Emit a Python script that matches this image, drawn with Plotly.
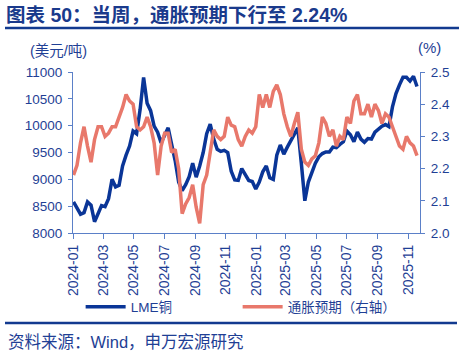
import pandas as pd
import plotly.graph_objects as go

dates = pd.date_range("2024-01-02", periods=99, freq="7D")

copper = [8580, 8470, 8350, 8380, 8580, 8520, 8210, 8360, 8510, 8490,
          8640, 9000, 8860, 8890, 9250, 9450, 9620, 9900, 9850, 10300,
          10900, 10420, 10280, 9990, 9880, 9680, 9820, 9960, 9650, 9350,
          8950, 8790, 8900, 9050, 9300, 9040, 9250, 9500, 9850, 10030,
          9750, 9560, 9520, 9540, 9500, 9150, 8990, 8980, 9200, 9100,
          8980, 8960, 8820, 8950, 9140, 9250, 9030, 9000, 9450, 9640,
          9470, 9600, 9720, 9830, 9960, 9300, 8600, 8950, 9150, 9300,
          9420, 9480, 9510, 9510, 9600, 9590, 9650, 9700, 9900, 9830,
          9700, 9880, 9750, 9690, 9760, 9750, 9880, 9940, 9990, 10020,
          9980, 10350, 10600, 10760, 10900, 10900, 10830, 10920, 10730]

inflation = [2.18, 2.21, 2.28, 2.33, 2.27, 2.22, 2.29, 2.33, 2.33, 2.30,
             2.31, 2.33, 2.33, 2.36, 2.39, 2.43, 2.41, 2.40, 2.33, 2.32,
             2.33, 2.36, 2.33, 2.28, 2.18, 2.27, 2.31, 2.31, 2.25, 2.26,
             2.20, 2.06, 2.09, 2.11, 2.15, 2.08, 2.03, 2.15, 2.18, 2.25,
             2.32, 2.30, 2.29, 2.30, 2.36, 2.335, 2.33, 2.29, 2.27, 2.30,
             2.32, 2.31, 2.33, 2.43, 2.39, 2.43, 2.39, 2.44, 2.46, 2.43,
             2.37, 2.33, 2.30, 2.34, 2.375, 2.26, 2.22, 2.21, 2.23, 2.24,
             2.28, 2.36, 2.34, 2.30, 2.32, 2.27, 2.30, 2.29, 2.36, 2.34,
             2.41, 2.43, 2.37, 2.37, 2.40, 2.36, 2.40, 2.38, 2.34, 2.37,
             2.36, 2.33, 2.30, 2.27, 2.26, 2.30, 2.28, 2.27, 2.24]

left_ticks = [8000, 8500, 9000, 9500, 10000, 10500, 11000]
left_labels = ["8000", "8500", "9000", "9500", "10000", "10500", "11000"]
right_ticks = [2.0, 2.1, 2.2, 2.3, 2.4, 2.5]
right_labels = ["2.0", "2.1", "2.2", "2.3", "2.4", "2.5"]
x_ticks = pd.date_range("2024-01-01", "2025-11-01", freq="2MS")

BLUE = "#0a3597"
PINK = "#e8786b"
TEXT = "#1f3f95"
AXIS = "#5b80c8"
FONT = "Arial, Liberation Sans, Noto Sans CJK SC, sans-serif"

fig = go.Figure()
fig.add_trace(go.Scatter(x=dates, y=copper, name="LME铜", mode="lines",
                         line=dict(color=BLUE, width=3.5), yaxis="y"))
fig.add_trace(go.Scatter(x=dates, y=inflation, name="通胀预期（右轴）", mode="lines",
                         line=dict(color=PINK, width=3.5), yaxis="y2"))

fig.update_layout(
    width=464, height=361,
    margin=dict(l=73, r=44, t=72, b=128, autoexpand=False),
    paper_bgcolor="white", plot_bgcolor="white",
    font=dict(family=FONT, color=TEXT, size=14),
    showlegend=True,
    legend=dict(orientation="h", x=0.022, xanchor="left", y=-0.46, yanchor="middle",
                font=dict(size=13.5, color=TEXT, family=FONT),
                entrywidth=102, entrywidthmode="pixels",
                bgcolor="rgba(0,0,0,0)", itemwidth=40, tracegroupgap=0),
    xaxis=dict(
        type="date",
        range=["2024-01-01", "2025-11-24"],
        tickvals=list(x_ticks), tickformat="%Y-%m", tickangle=-90,
        showgrid=False, zeroline=False,
        showline=True, linecolor=AXIS, linewidth=1.2,
        ticks="outside", ticklen=5, tickcolor=AXIS,
        tickfont=dict(size=14, color=TEXT, family=FONT),
    ),
    yaxis=dict(
        range=[8000, 11000], tickvals=left_ticks, ticktext=left_labels,
        showgrid=False, zeroline=False,
        showline=True, linecolor=AXIS, linewidth=1.2,
        ticks="outside", ticklen=4, tickcolor=AXIS, ticklabelstandoff=3,
        tickfont=dict(size=13.5, color=TEXT, family=FONT),
    ),
    yaxis2=dict(
        range=[2.0, 2.5], tickvals=right_ticks, ticktext=right_labels,
        overlaying="y", side="right",
        showgrid=False, zeroline=False,
        showline=True, linecolor=AXIS, linewidth=1.2,
        ticks="outside", ticklen=4, tickcolor=AXIS, ticklabelstandoff=3,
        tickfont=dict(size=13.5, color=TEXT, family=FONT),
    ),
)

# title
fig.add_annotation(text="<b>图表 50：当周，通胀预期下行至 2.24%</b>",
                   xref="paper", yref="paper", x=-69/347, y=1 + (72-15)/161,
                   xanchor="left", yanchor="middle", showarrow=False,
                   font=dict(size=19.5, color="#1a3a8c", family=FONT))
fig.add_shape(type="line", xref="paper", yref="paper",
              x0=-68/347, x1=1 + 39/347, y0=1 + (72-28)/161, y1=1 + (72-28)/161,
              line=dict(color="#123a8f", width=2.5))
# axis unit labels
fig.add_annotation(text="(美元/吨)", xref="paper", yref="paper",
                   x=-45/347, y=1 + (72-51)/161, xanchor="left", yanchor="middle",
                   showarrow=False, font=dict(size=14.5, color=TEXT, family=FONT))
fig.add_annotation(text="(%)", xref="paper", yref="paper",
                   x=1 + (-4)/347, y=1 + (72-48)/161, xanchor="left", yanchor="middle",
                   showarrow=False, font=dict(size=15, color=TEXT, family=FONT))
# bottom separator and source
fig.add_shape(type="line", xref="paper", yref="paper",
              x0=-68/347, x1=1 + 37/347, y0=-(323-233)/161, y1=-(323-233)/161,
              line=dict(color="#123a8f", width=2.5))
fig.add_annotation(text="资料来源：Wind，申万宏源研究", xref="paper", yref="paper",
                   x=-67/347, y=-(342-233)/161, xanchor="left", yanchor="middle",
                   showarrow=False, font=dict(size=16.5, color=TEXT, family=FONT))

fig.write_html("out.html", config={"displayModeBar": False},
               post_script="document.body.style.margin='0';document.body.style.overflow='hidden';")
